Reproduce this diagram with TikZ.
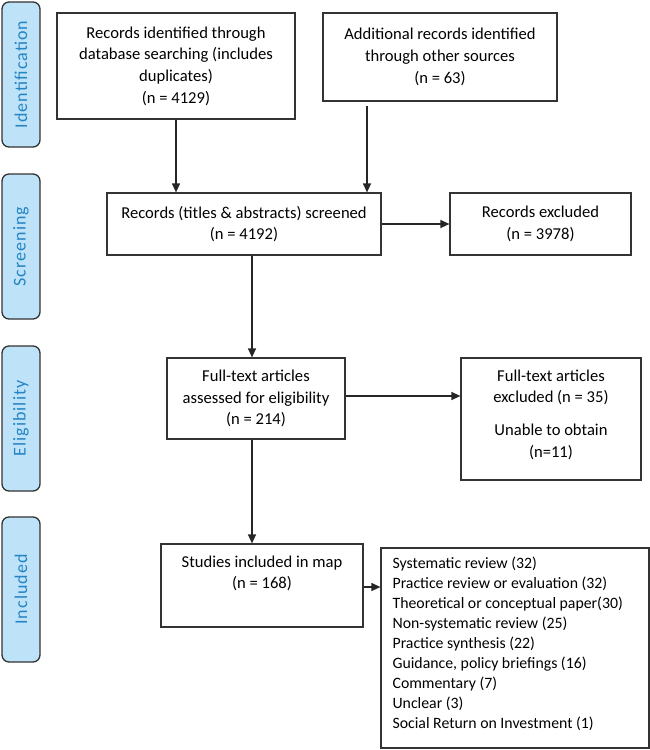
\documentclass[tikz,border=0pt]{standalone}
\usepackage{fontspec}
\setmainfont{Carlito}
\newfontfamily\barfont[LetterSpace=6]{Carlito}
\usetikzlibrary{arrows.meta}
\definecolor{barfill}{HTML}{BEE3F8}
\definecolor{bartext}{HTML}{2484C4}
\definecolor{boxline}{HTML}{333333}
\begin{document}
\begin{tikzpicture}[x=1pt,y=-1pt,
  phase/.style={draw=boxline, line width=1.3pt, fill=barfill, rounded corners=7pt,
    minimum width=145pt, minimum height=38pt, inner sep=0pt, text=bartext,
    font=\barfont\fontsize{18}{20}\selectfont, rotate=90},
  stage/.style={draw=boxline, line width=1.2pt, align=center, inner sep=0pt,
    font=\fontsize{16.6}{21.7}\selectfont},
  txt/.style={align=center, inner sep=0pt, font=\fontsize{16.6}{21.7}\selectfont},
  arr/.style={-{Triangle[length=9pt,width=8pt]}, line width=1.3pt, draw=black!85}]
\useasboundingbox (0,0) rectangle (650,750);
% phase bars
\node[phase] (pid) at (21,74.5) {Identification};
\node[phase] (psc) at (21,246.5) {Screening};
\node[phase] (pel) at (21,418.5) {Eligibility};
\node[phase] (pin) at (21,589.5) {Included};
% boxes
\node[stage, minimum width=238pt, minimum height=106pt] (db) at (176,66)
  {Records identified through\\database searching (includes\\duplicates)\\(n = 4129)};
\node[stage, minimum width=234pt, minimum height=88pt] (other) at (440,57)
  {Additional records identified\\through other sources\\(n = 63)};
\node[stage, minimum width=274pt, minimum height=62pt] (scr) at (244,224)
  {Records (titles \& abstracts) screened\\(n = 4192)};
\node[stage, minimum width=181pt, minimum height=62pt] (exc) at (540.5,224)
  {Records excluded\\(n = 3978)};
\node[stage, minimum width=178pt, minimum height=81pt] (ft) at (256,398.5)
  {Full-text articles\\assessed for eligibility\\(n = 214)};
\node[stage, minimum width=180pt, minimum height=122pt] (ftex) at (551,419) {};
\node[txt, anchor=north] (ftextxt) at ([yshift=-12pt]ftex.north)
  {Full-text articles\\excluded (n = 35)\\[11pt]Unable to obtain\\(n=11)};
\node[stage, minimum width=202pt, minimum height=83pt] (inc) at (262,585.5) {};
\node[txt, anchor=north] (inctxt) at ([yshift=-12pt]inc.north)
  {Studies included in map\\(n = 168)};
\node[stage, minimum width=268pt, minimum height=200pt] (list) at (515,648) {};
\node[txt, align=left, anchor=north west, font=\fontsize{15.8}{20}\selectfont] (listtxt)
  at ([xshift=12pt,yshift=-9pt]list.north west)
  {Systematic review (32)\\
   Practice review or evaluation (32)\\
   Theoretical or conceptual paper(30)\\
   Non-systematic review (25)\\
   Practice synthesis (22)\\
   Guidance, policy briefings (16)\\
   Commentary (7)\\
   Unclear (3)\\
   Social Return on Investment (1)};
% arrows
\draw[arr] (db.south) -- (db.south |- scr.north);
\draw[arr] ([yshift=-4pt]other.south -| 367,0) -- (367,0 |- scr.north);
\draw[arr] (scr.east) -- (exc.west);
\draw[arr] (252,0 |- scr.south) -- (252,0 |- ft.north);
\draw[arr] (ft.east |- 0,396) -- (ftex.west |- 0,396);
\draw[arr] (252,0 |- ft.south) -- (252,0 |- inc.north);
\draw[arr] (inc.east |- 0,587) -- (list.west |- 0,587);
\end{tikzpicture}
\end{document}
